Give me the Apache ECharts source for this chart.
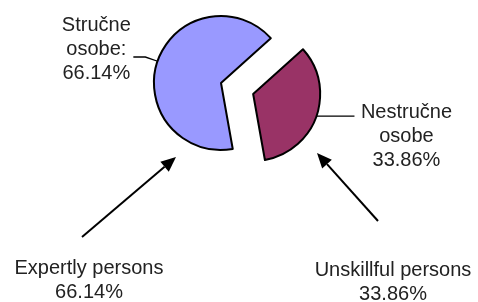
<!DOCTYPE html>
<html>
<head>
<meta charset="utf-8">
<script src="https://cdn.jsdelivr.net/npm/echarts@6/dist/echarts.min.js"></script>
<style>
    html, body { margin: 0; padding: 0; background: #fff; }
    #chart { width: 478px; height: 302px; }
</style>
</head>
<body>
<div id="chart"></div>
<script>
// data: Nestručne (unskillful) first, Stručne (expertly) second
var namesLocal = ['Nestručne\nosobe', 'Stručne\nosobe:'];
var namesEn = ['Unskillful persons', 'Expertly persons'];
var values = [33.86, 66.14];
var colors = ['#993366', '#9999FF'];

var fontFamily = '"Liberation Sans", Arial, sans-serif';
var textColor = '#222';

function richLines(text) {
    return text.split('\n').map(function (l) { return '{t|' + l + '}'; }).join('\n');
}

// arrow: straight line + filled head at the tip
function arrow(x1, y1, x2, y2) {
    var ang = Math.atan2(y2 - y1, x2 - x1);
    var len = 15, half = 6.5;
    var bx = x2 - len * Math.cos(ang), by = y2 - len * Math.sin(ang);
    var px = -Math.sin(ang) * half, py = Math.cos(ang) * half;
    return [
        {
            type: 'line',
            shape: { x1: x1, y1: y1, x2: bx, y2: by },
            style: { stroke: '#000', lineWidth: 2 }
        },
        {
            type: 'polygon',
            shape: { points: [[x2, y2], [bx + px, by + py], [bx - px, by - py]] },
            style: { fill: '#000' }
        }
    ];
}

var chartDom = document.getElementById('chart');
var chart = echarts.init(chartDom);

var labelSetups = [
    { length: 1, length2: 37, distance: 4, width: 96, padding: [40, 0, 0, 0] },
    { length: 13, length2: 12, distance: 0, width: 74, padding: [0, 0, 16, 0] }
];

var pieData = values.map(function (v, i) {
    var s = labelSetups[i];
    return {
        value: v,
        name: namesLocal[i],
        selected: i === 0,
        itemStyle: { color: colors[i] },
        label: {
            formatter: richLines(namesLocal[i] + '\n' + v.toFixed(2) + '%'),
            distanceToLabelLine: s.distance,
            padding: s.padding,
            rich: {
                t: {
                    width: s.width,
                    align: 'center',
                    fontSize: 20,
                    lineHeight: 24,
                    fontFamily: fontFamily,
                    color: textColor
                }
            }
        },
        labelLine: { length: s.length, length2: s.length2 }
    };
});

var graphics = [];
values.forEach(function (v, i) {
    graphics.push({
        type: 'text',
        x: i === 0 ? 393 : 89,
        y: i === 0 ? 282 : 280,
        style: {
            text: namesEn[i] + '\n' + v.toFixed(2) + '%',
            align: 'center',
            verticalAlign: 'middle',
            font: '20px ' + fontFamily,
            lineHeight: 24,
            fill: textColor
        }
    });
});
graphics = graphics.concat(arrow(82, 237, 176, 157));
graphics = graphics.concat(arrow(378, 221, 317, 153));

var option = {
    animation: false,
    backgroundColor: '#fff',
    graphic: graphics,
    series: [
        {
            type: 'pie',
            center: [221, 83],
            radius: 67,
            startAngle: 42,
            clockwise: true,
            selectedMode: 'single',
            selectedOffset: 34,
            avoidLabelOverlap: false,
            itemStyle: {
                borderColor: '#000',
                borderWidth: 2
            },
            emphasis: { disabled: true },
            label: {
                show: true,
                position: 'outside',
                color: textColor
            },
            labelLine: {
                show: true,
                lineStyle: { color: '#000', width: 1.3 }
            },
            data: pieData
        }
    ]
};
chart.setOption(option);

window.addEventListener('resize', function () {
    chart.resize();
});
</script>
</body>
</html>
